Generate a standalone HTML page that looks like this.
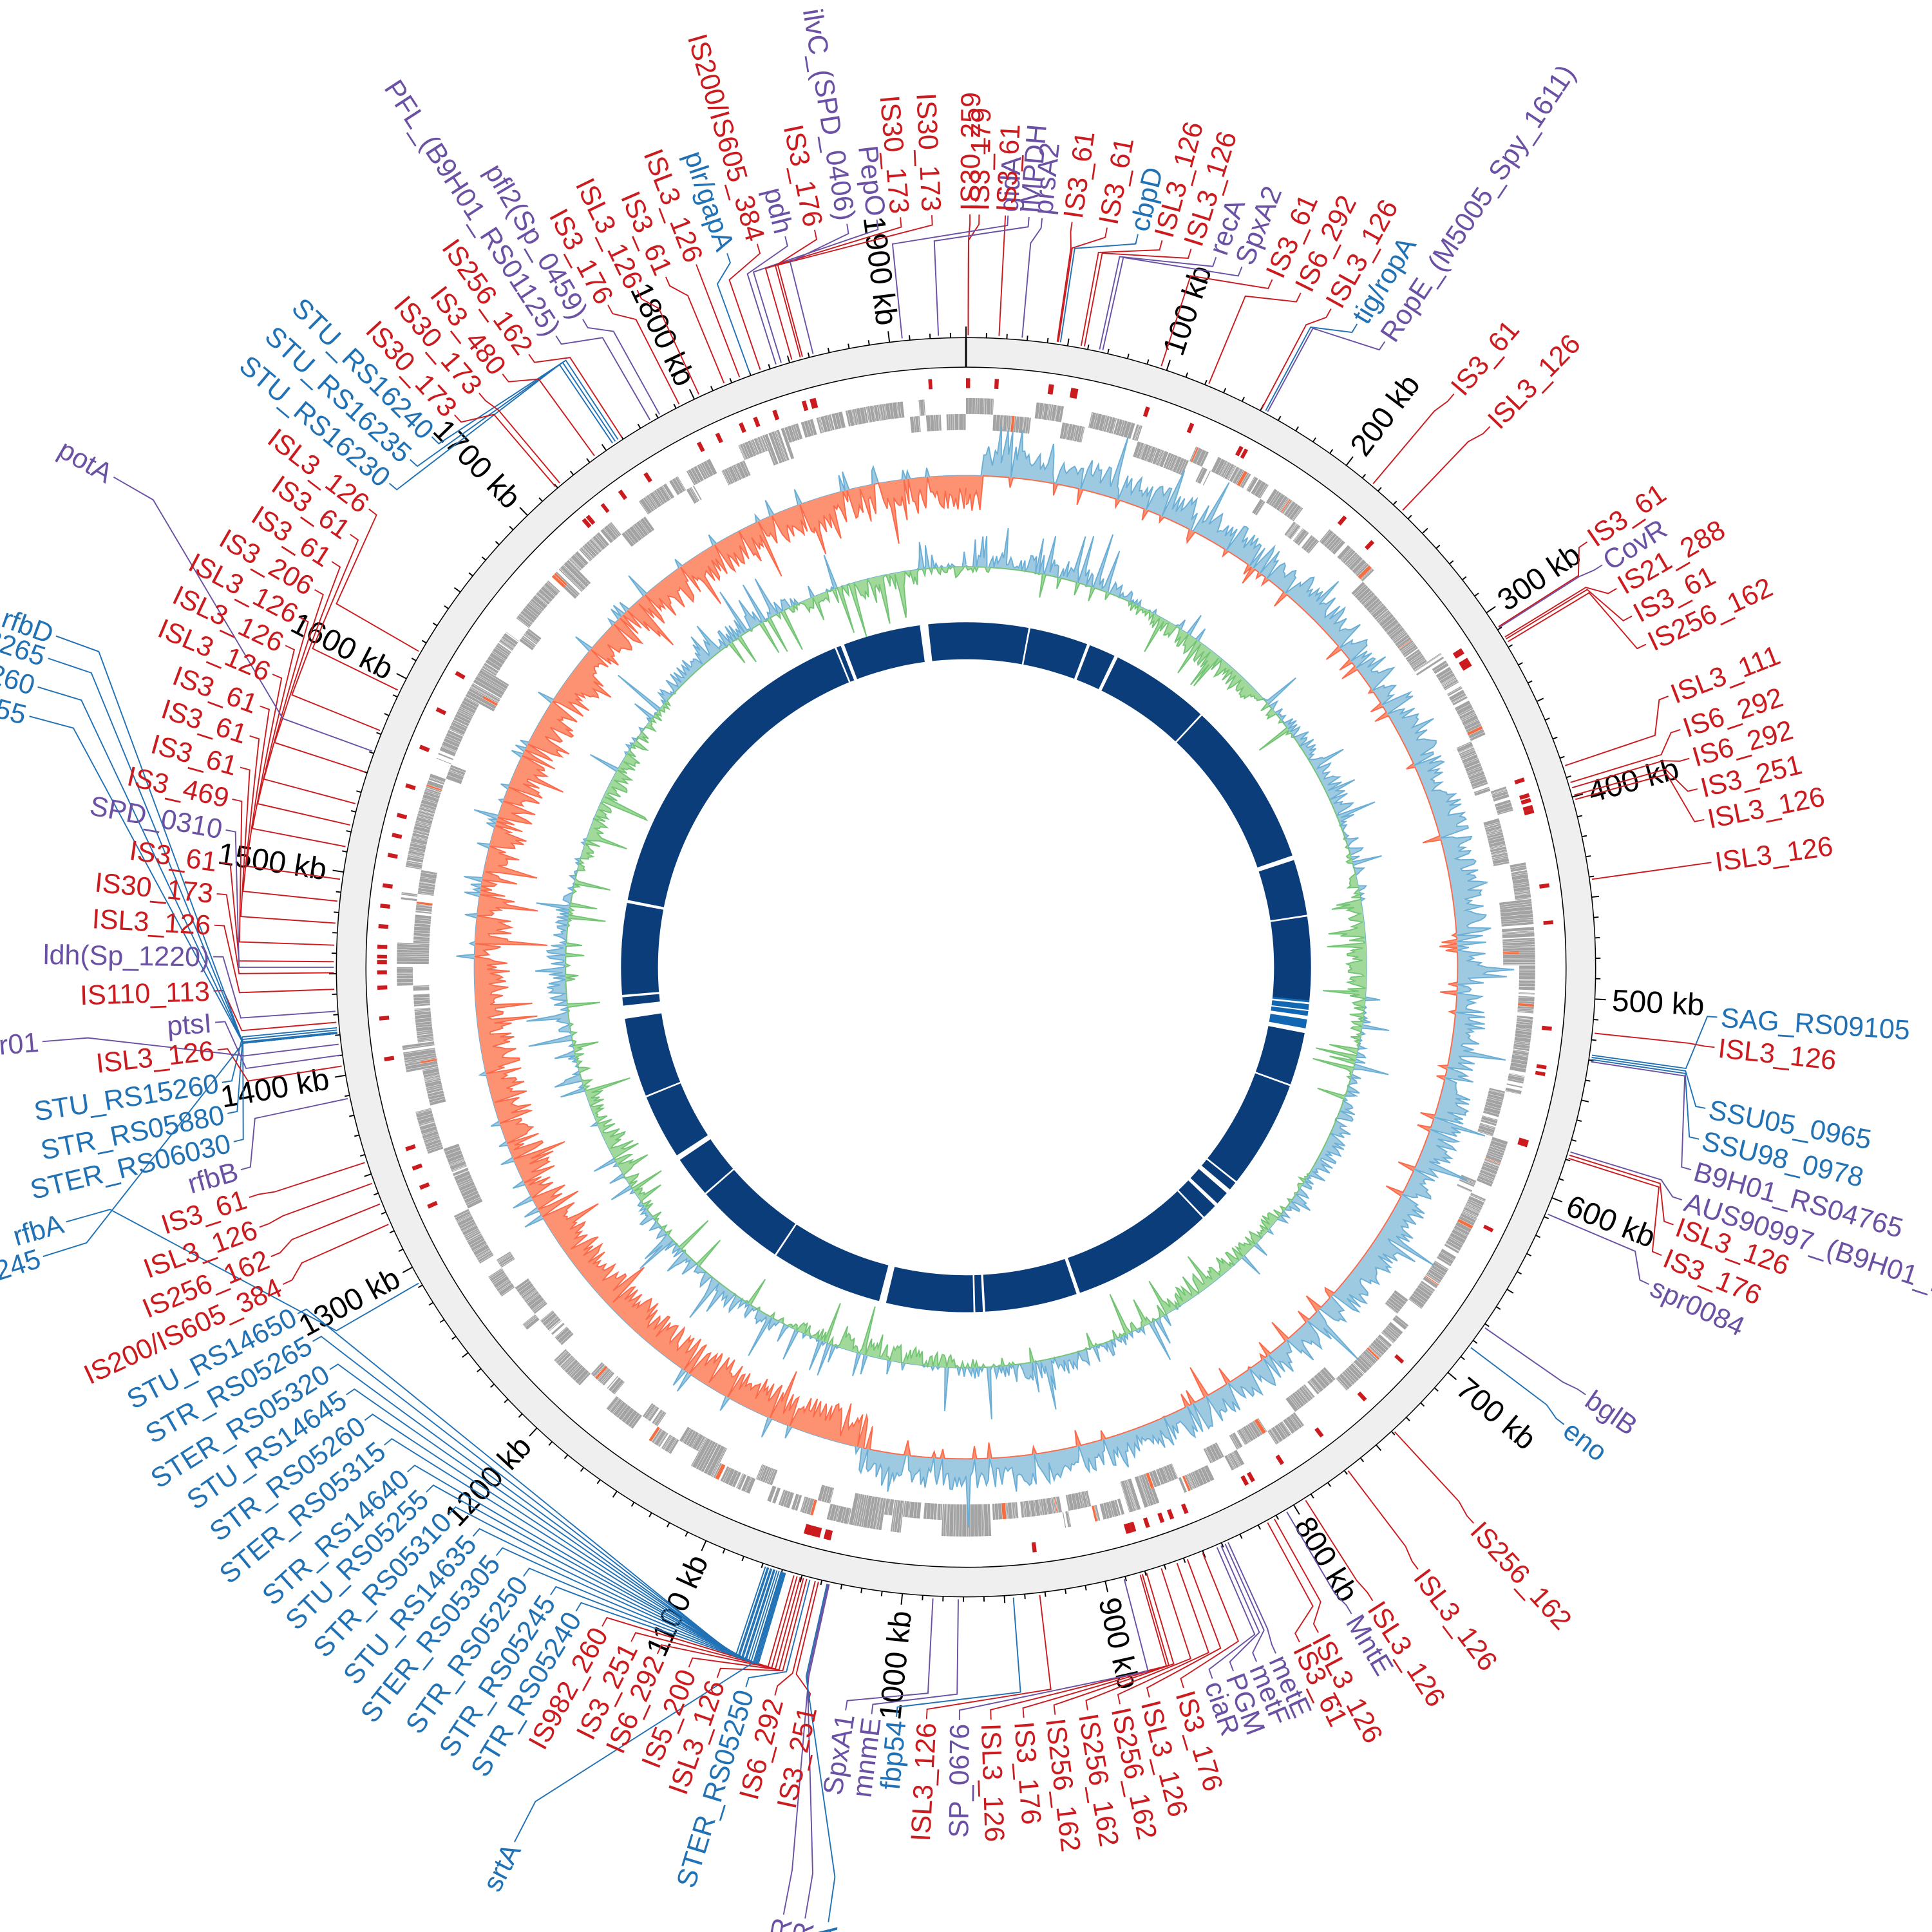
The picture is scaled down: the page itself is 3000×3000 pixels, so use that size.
<!DOCTYPE html>
<html><head><meta charset="utf-8">
<style>
html,body{margin:0;padding:0;background:#fff;}
svg{display:block;}
text{font-family:"Liberation Sans Narrow","Liberation Sans",sans-serif;}
</style></head>
<body>
<svg id="s" xmlns="http://www.w3.org/2000/svg" width="3000" height="3000" viewBox="0 0 1568 1568"></svg>
<script>
const cx=784,cy=785,D=Math.PI/180;
function P(r,a){return [cx+r*Math.sin(a*D),cy-r*Math.cos(a*D)];}
function f2(v){return v.toFixed(2);}
function band(r1,r2,a1,a2){const p1=P(r2,a1),p2=P(r2,a2),p3=P(r1,a2),p4=P(r1,a1);const lg=(a2-a1)>180?1:0;
return `M${f2(p1[0])},${f2(p1[1])}A${r2},${r2} 0 ${lg} 1 ${f2(p2[0])},${f2(p2[1])}L${f2(p3[0])},${f2(p3[1])}A${r1},${r1} 0 ${lg} 0 ${f2(p4[0])},${f2(p4[1])}Z`;}
let seed=12345;function rnd(){seed=(seed*1103515245+12345)%2147483648;return seed/2147483648;}
const R='#cb1b1f',B='#2171b5',PU='#6a51a3';
let o=[];
o.push(`<circle cx="${cx}" cy="${cy}" r="499" fill="none" stroke="#efefef" stroke-width="24"/>`);
o.push(`<circle cx="${cx}" cy="${cy}" r="487" fill="none" stroke="#000" stroke-width="0.8"/>`);
o.push(`<circle cx="${cx}" cy="${cy}" r="511" fill="none" stroke="#000" stroke-width="0.8"/>`);
let a0=P(487,0),a1=P(511,0);o.push(`<line x1="${a0[0]}" y1="${a0[1]}" x2="${a1[0]}" y2="${a1[1]}" stroke="#000" stroke-width="1.5"/>`);
const K=0.1858;
for(let k=0;k<1938;k+=10){const a=k*K;const L=k%100==0?9:(k%50==0?6:4);const p=P(511,a),q=P(511+L,a);
o.push(`<line x1="${f2(p[0])}" y1="${f2(p[1])}" x2="${f2(q[0])}" y2="${f2(q[1])}" stroke="#000" stroke-width="1"/>`);}
for(let k=100;k<1938;k+=100){const a=k*K;
 if(a<180)o.push(`<text transform="rotate(${f2(a-90)} ${cx} ${cy})" x="${cx+525}" y="${cy}" dy="0.35em" font-size="25" fill="#000">${k} kb</text>`);
 else o.push(`<text transform="rotate(${f2(a+90)} ${cx} ${cy})" x="${cx-525}" y="${cy}" dy="0.35em" font-size="25" fill="#000" text-anchor="end">${k} kb</text>`);}
let gp='',op='';
let a=0;
while(a<360){const run=0.5+rnd()*3.5;const m=rnd();const rows=m<0.45?[0]:(m<0.9?[1]:[0,1]);
 const end=Math.min(360,a+run);let g=a;
 while(g<end){const w=0.05+rnd()*0.35;const e=Math.min(end,g+w);
  for(const rw of rows){const r1=rw==0?449:436,r2=rw==0?462:449;
   if(rnd()<0.02)op+=band(r1,r2,g,e);else gp+=band(r1,r2,g,e);}
  g=e+0.03+(rnd()<0.08?rnd()*0.4:0);}
 a=end+(rnd()<0.15?rnd()*0.6:0.05);}
o.push(`<path d="${gp}" fill="#a3a3a3"/>`);o.push(`<path d="${op}" fill="#f46d43"/>`);
function track(base,scale,fn,posFill,posStroke,negFill,negStroke){
 const N=1440;let vals=[];
 for(let i=0;i<=N;i++){vals.push(fn(i*360/N));}
 for(const sgn of [1,-1]){let pts=[];
  for(let i=0;i<=N;i++){const v=sgn>0?Math.max(vals[i],0):Math.min(vals[i],0);const p=P(base+v*scale,i*360/N);pts.push(f2(p[0])+','+f2(p[1]));}
  let bl=[];for(let i=N;i>=0;i--){const p=P(base,i*360/N);bl.push(f2(p[0])+','+f2(p[1]));}
  o.push(`<path d="M${pts.join('L')}L${bl.join('L')}Z" fill="${sgn>0?posFill:negFill}" stroke="none"/>`);
  o.push(`<path d="M${pts.join('L')}" fill="none" stroke="${sgn>0?posStroke:negStroke}" stroke-width="1"/>`);}
}
track(399,30,function(t){const base=(t<2||t>192)?-0.75:0.65;let v=base*(0.4+rnd()*0.9);if(rnd()<0.12)v+=(rnd()-0.5)*2.2;if(rnd()<0.04)v=-v*0.6;return v;},'#9ecae1','#6baed6','#fc9272','#fb6a4a');
track(325,32,function(t){let v=(rnd()-0.5)*0.5;if(rnd()<0.15)v+=(rnd()-0.5)*2.2;const reg=Math.sin(t*D*7)*0.25;return v+reg;},'#9ecae1','#6baed6','#a1d99b','#74c476');
o.push(`<path d="${band(250,280,0,180)+band(250,280,180,360)}" fill="#0a3d7a"/>`);
o.push(`<path d="${band(250,280,95.5,100.5)}" fill="#1167b1"/>`);
const gaps=[[353,1.4],[339,0.6],[337.8,0.3],[10.6,0.3],[20.8,0.5],[25.8,0.6],[43,0.3],[71.5,0.8],[81.4,0.3],[96,0.3],[97.2,0.2],[98.4,0.6],[100.6,0.8],[110,0.3],[128.5,0.3],[130.5,0.8],[133.5,0.6],[136.5,0.3],[161,0.6],[177,0.4],[178.6,0.3],[194,1.2],[213.5,0.3],[229,0.3],[236.5,0.9],[248,0.3],[262.5,2.2],[265.2,0.4],[281,0.5]];
let gpath='';for(const [g,w] of gaps)gpath+=band(248,282,g-w/2,g+w/2);
o.push(`<path d="${gpath}" fill="#fff"/>`);
const L=[
[353.2,'PepO',PU,343],[355,'IS30_173',R,344],[357.4,'IS30_173',R,345],[0.3,'IS30_259',R,0.2],[1.0,'IS3_179',R,0.2],
[3.2,'gidA',PU,354.2],[3.0,'IS3_61',R,3],[4.8,'IMPDH',PU,357.5],[5.8,'prsA2',PU,5.1],
[8.1,'IS3_61',R,8.3],[10.8,'IS3_61',R,8.4],[13.2,'cbpD',B,8.6],[15.1,'ISL3_126',R,10.5],[17.4,'ISL3_126',R,10.8],
[19.4,'recA',PU,12.2],[21.5,'SpxA2',PU,12.5],[24,'IS3_61',R,18],[26.4,'IS6_292',R,22.6],[29,'ISL3_126',R,27.9],
[31.3,'tig/ropA',B,28.3],[33.8,'RopE_(M5005_Spy_1611)',PU,28.5],[40.4,'IS3_61',R,40.1],[44.1,'ISL3_126',R,43.7],
[55.6,'IS3_61',R,57.4],[57.7,'CovR',PU,57.5],[59.8,'IS21_288',R,58.5],[62.2,'IS3_61',R,58.7],[64.6,'IS256_162',R,59],
[68.9,'ISL3_111',R,71.4],[71.6,'IS6_292',R,73],[73.9,'IS6_292',R,73.5],[76.3,'IS3_251',R,74.2],[78.7,'ISL3_126',R,74.6],
[82,'ISL3_126',R,82],[93.8,'SAG_RS09105',B,98],[96.1,'ISL3_126',R,96],[100.8,'SSU05_0965',B,98.2],[103.2,'SSU98_0978',B,98.4],
[105.6,'B9H01_RS04765',PU,98.6],[108,'AUS90997_(B9H01_RS04770)',PU,107],[110,'ISL3_126',R,107.3],[112.5,'IS3_176',R,107.6],
[114.9,'spr0084',PU,113],[124.6,'bglB',PU,124.8],[127.4,'eno',B,127],[137.6,'IS256_162',R,137.3],[143.1,'ISL3_126',R,142.8],
[147.3,'ISL3_126',R,147.5],[149.2,'MntE',PU,149.5],[152.1,'ISL3_126',R,150.8],[153.7,'IS3_61',R,151.5],[155.7,'metE',PU,155.5],
[157.3,'metF',PU,155.8],[159.2,'PGM',PU,156.2],[160.9,'ciaR',PU,156.6],[163.2,'IS3_176',R,158],[165.9,'ISL3_126',R,159.5],
[168.2,'IS256_162',R,160.5],[170.7,'IS256_162',R,162],[173.2,'IS256_162',R,163.4],[175.6,'IS3_176',R,163.8],[178.1,'ISL3_126',R,164],
[180.5,'SP_0676',PU,165.5],[183,'ISL3_126',R,173.3],[185.3,'fbp54',B,175.7],[187.2,'mnmE',PU,180.7],[189.2,'SpxA1',PU,183],
[192.1,'IS3_251',R,193.5],[194.7,'IS6_292',R,193.8],[197,'STER_RS05250',B,194.3],[199.3,'ISL3_126',R,194.6],[201.6,'IS5_200',R,194.9],
[204.2,'IS6_292',R,195.2],[206.4,'IS3_251',R,195.5],[208.9,'IS982_260',R,195.8],
[211.2,'STR_RS05240',B,196.6],[213.5,'STR_RS05245',B,196.7],[216,'STR_RS05250',B,196.8],[218.6,'STER_RS05305',B,196.9],[220.9,'STU_RS14635',B,197],
[223.4,'STR_RS05310',B,197.2],[225.8,'STU_RS05255',B,197.4],[227.9,'STR_RS14640',B,197.6],[230.6,'STER_RS05315',B,197.7],[233,'STR_RS05260',B,197.9],
[235.4,'STU_RS14645',B,198],[237.7,'STER_RS05320',B,198.2],[240.2,'STR_RS05265',B,198.3],[242.6,'STU_RS14650',B,198.5],
[245.1,'IS200/IS605_384',R,246],[247.4,'IS256_162',R,248],[249.8,'ISL3_126',R,250],[252.2,'IS3_61',R,252],[254.4,'rfbB',PU,258],
[256.6,'STER_RS06030',B,264.1],[258.8,'STR_RS05880',B,264.3],[261.2,'STU_RS15260',B,264.5],[263.7,'ISL3_126',R,261],[265.8,'ptsI',PU,262],
[268.2,'IS110_113',R,265],[270.8,'ldh(Sp_1220)',PU,266],[273.2,'ISL3_126',R,268],[275.6,'IS30_173',R,269.5],[278,'IS3_61',R,270.5],
[280.5,'SPD_0310',PU,270],[282.9,'IS3_469',R,272],[285.4,'IS3_61',R,274],[287.9,'IS3_61',R,276],[290.3,'IS3_61',R,278],
[292.9,'ISL3_126',R,281],[295.3,'ISL3_126',R,283],[297.7,'ISL3_126',R,285],[300.1,'IS3_206',R,288],[302.6,'IS3_61',R,292],
[305.1,'IS3_61',R,296],[307.5,'ISL3_126',R,300],
[310,'STU_RS16230',B,326],[312.4,'STU_RS16235',B,326.3],[314.8,'STU_RS16240',B,326.6],[317.2,'IS30_173',R,319.5],[319.7,'IS30_173',R,320],
[322,'IS3_480',R,324],[324.5,'IS256_162',R,327],[327,'PFL_(B9H01_RS01125)',PU,330],[329.4,'pfl2(Sp_0459)',PU,331],[331.6,'IS3_176',R,333],
[334.1,'ISL3_126',R,335],[336.5,'IS3_61',R,337.5],[339,'ISL3_126',R,339],[341.5,'plr/gapA',B,340],[343.9,'IS200/IS605_384',R,341],
[346.1,'pdh',PU,342.5],[348.4,'IS3_176',R,344.8],[350.9,'ilvC_(SPD_0406)',PU,346],
[299.9,'potA',PU,290,801],[290,'rfbD',B,264,789],[288.6,'SSU_RS08265',B,264,789],[286.8,'SSU_RS08260',B,264,790],[285,'SSU_RS08255',B,264,790],
[265.4,'sagr01',PU,263,755],[254.2,'rfbA',B,240,762],[252.6,'SSU_RS08245',B,264,788],[207.3,'srtA',B,197,802],
[190.9,'CovR',PU,192.5,786],[189.6,'CiaR',PU,192.6,786],[188.2,'ScpA',B,192.7,786]
];
let lines='',texts='';
for(const l of L){let [t,txt,c,f,Rr]=l;const Rl=Rr||614;
 const p1=P(513,f),p2=P(590,f),p3=P(Rr?Rl-40:603,t),p4=P(Rl-3,t);
 lines+=`<polyline points="${f2(p1[0])},${f2(p1[1])} ${f2(p2[0])},${f2(p2[1])} ${f2(p3[0])},${f2(p3[1])} ${f2(p4[0])},${f2(p4[1])}" fill="none" stroke="${c}" stroke-width="1"/>`;
 if(c===R){lines+=`<path d="${band(470,478,f-0.2,f+0.2)}" fill="#cb1b1f"/>`;}
 if(t<180)texts+=`<text transform="rotate(${f2(t-90)} ${cx} ${cy})" x="${cx+Rl}" y="${cy}" dy="0.35em" font-size="22.5" fill="${c}">${txt}</text>`;
 else texts+=`<text transform="rotate(${f2(t+90)} ${cx} ${cy})" x="${cx-Rl}" y="${cy}" dy="0.35em" font-size="22.5" fill="${c}" text-anchor="end">${txt}</text>`;}
for(let i=0;i<10;i++){const f=rnd()*360;lines+=`<path d="${band(470,478,f-0.18,f+0.18)}" fill="#cb1b1f"/>`;}
o.push(lines);o.push(texts);
document.getElementById('s').innerHTML=o.join('');
</script>
</body></html>
